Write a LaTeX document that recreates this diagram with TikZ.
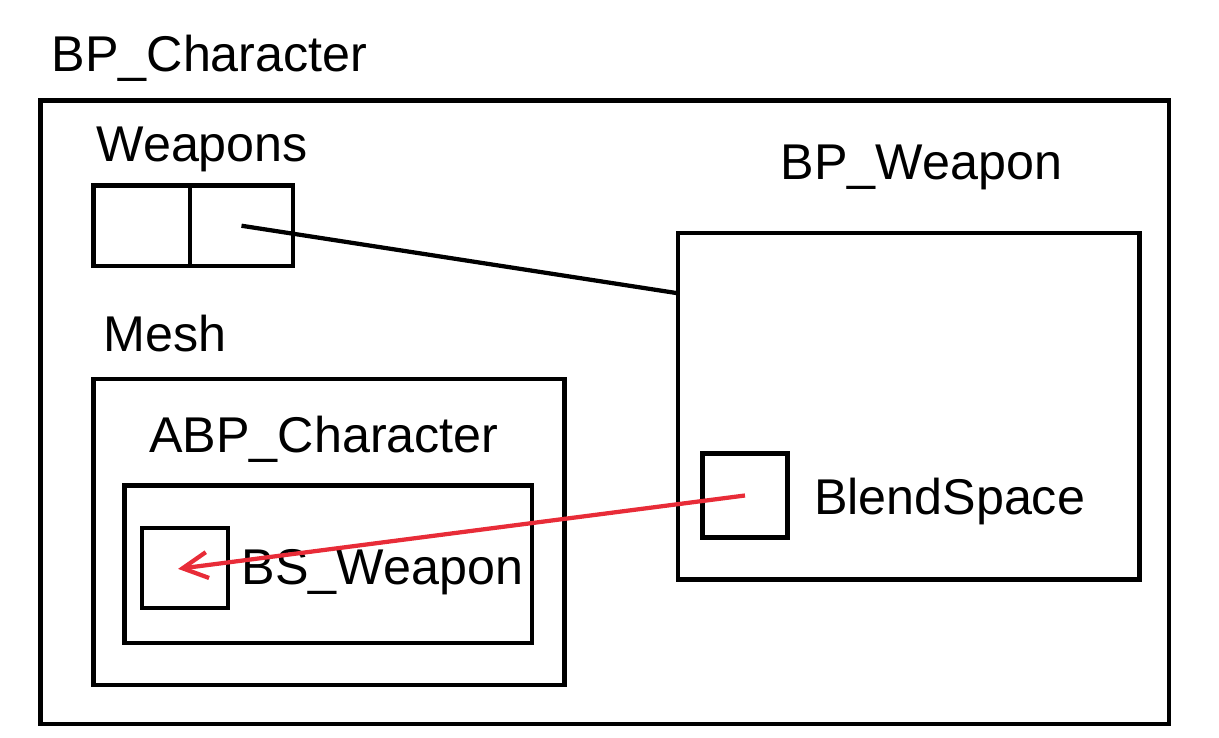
\documentclass[tikz,border=0pt]{standalone}
\usepackage{fontspec}
\setmainfont{Liberation Sans}
\usetikzlibrary{positioning, calc, arrows.meta}
\definecolor{linkred}{RGB}{232,44,56}
\tikzset{
	box/.style={draw, line width=0.09cm, inner sep=0pt, outer sep=0pt},
	lbl/.style={anchor=base west, inner sep=0pt, font=\fontsize{28.6pt}{34pt}\selectfont},
	link/.style={line width=0.085cm},
}

\begin{document}
\begin{tikzpicture}
		\useasboundingbox (0,0) rectangle (24.38,14.76);
		% outer blueprint
		\node[box, minimum width=22.57cm, minimum height=12.47cm] (character) at (12.095,6.515) {};
		\node[lbl] (charlabel) at (1.028,13.326) {BP\_Character};
		
		% weapons array
		\node[lbl] (weaponslabel) at (1.924,11.526) {Weapons};
		\node[box, minimum width=1.93cm, minimum height=1.61cm] (slota) at (2.835,10.245) {};
		\node[box, minimum width=2.06cm, minimum height=1.61cm, right=0pt of slota] (slotb) {};
		
		% weapon blueprint
		\node[lbl] (weaponlabel) at (15.608,11.174) {BP\_Weapon};
		\node[box, minimum width=9.23cm, minimum height=6.93cm] (weapon) at (18.175,6.635) {};
		\node[box, minimum width=1.7cm, minimum height=1.68cm] (blend) at (14.9,4.85) {};
		\node[lbl] (blendlabel) at (16.274,4.46) {BlendSpace};
		
		% mesh and anim blueprint
		\node[lbl] (meshlabel) at (2.062,7.726) {Mesh};
		\node[box, minimum width=9.424cm, minimum height=6.12cm] (mesh) at (6.582,4.12) {};
		\node[lbl] (abplabel) at (2.98,5.706) {ABP\_Character};
		\node[box, minimum width=8.15cm, minimum height=3.15cm] (abp) at (6.565,3.475) {};
		\node[box, minimum width=1.72cm, minimum height=1.6cm] (bsslot) at (3.7,3.4) {};
		\node[lbl] (bslabel) at (4.828,3.06) {BS\_Weapon};
		
		\draw[link] (slotb.center) -- ($(weapon.north west)!0.174!(weapon.south west)$);
		\draw[link, linkred, shorten >=-0.14cm, -{Straight Barb[length=0.5cm, width=0.52cm]}] (blend.center) -- (bsslot.center);
		
	\end{tikzpicture}
\end{document}
